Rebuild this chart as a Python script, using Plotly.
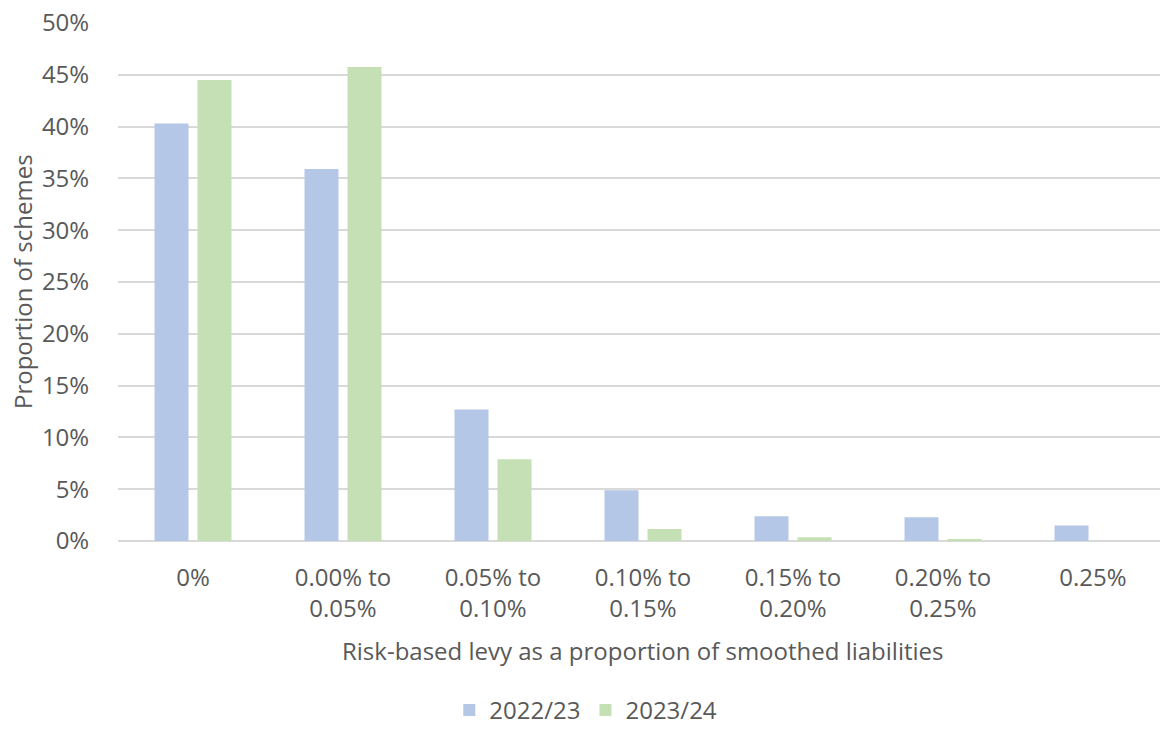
import plotly.graph_objects as go

# Distribution of risk-based levy as a share of smoothed liabilities
categories = [
    "0%",
    "0.00% to<br>0.05%",
    "0.05% to<br>0.10%",
    "0.10% to<br>0.15%",
    "0.15% to<br>0.20%",
    "0.20% to<br>0.25%",
    "0.25%",
]
share_2022_23 = [0.403, 0.359, 0.127, 0.049, 0.024, 0.023, 0.015]
share_2023_24 = [0.445, 0.4575, 0.079, 0.0115, 0.0035, 0.002, 0.0]
series_names = ["2022/23", "2023/24"]
y_ticks = [0, 0.05, 0.10, 0.15, 0.20, 0.25, 0.30, 0.35, 0.40, 0.45, 0.50]

TEXT = "#595959"
FONT = "Open Sans"
FS = 24
W, H = 1160, 733
ML, MT, MB = 118, 23, 192
slot_px = 150  # width of one category slot
plot_w = W - ML
plot_h = H - MT - MB

bar_w = 34 / slot_px
fig = go.Figure()
fig.add_trace(go.Bar(
    x=categories, y=share_2022_23, name=series_names[0],
    marker=dict(color="#b4c7e7", line=dict(width=0)),
    width=bar_w, offset=-(21.5 + 17) / slot_px,
))
fig.add_trace(go.Bar(
    x=categories, y=share_2023_24, name=series_names[1],
    marker=dict(color="#c5e0b4", line=dict(width=0)),
    width=bar_w, offset=(21.5 - 17) / slot_px,
))

fig.update_layout(
    width=W, height=H,
    margin=dict(l=ML, r=0, t=MT, b=MB, pad=0),
    paper_bgcolor="white", plot_bgcolor="white",
    font=dict(family=FONT, size=FS, color=TEXT),
    barmode="overlay",
    showlegend=True,
    legend=dict(
        orientation="h", xref="container", yref="container",
        x=0.505, xanchor="center", y=0.0, yanchor="bottom",
        font=dict(size=FS, color=TEXT), itemwidth=30,
        traceorder="normal",
    ),
    xaxis=dict(
        type="category",
        range=[-0.5, -0.5 + plot_w / slot_px],
        showgrid=False, showline=False, zeroline=False,
        ticks="outside", ticklen=15, tickcolor="rgba(0,0,0,0)",
        tickfont=dict(size=FS, color=TEXT),
        tickangle=0,
    ),
    yaxis=dict(
        range=[0, 0.5], tickvals=y_ticks, tickformat=".0%",
        showgrid=True, gridcolor="#d9d9d9", gridwidth=2,
        zeroline=True, zerolinecolor="#d9d9d9", zerolinewidth=2,
        showline=False,
        ticks="outside", ticklen=23, tickcolor="rgba(0,0,0,0)",
        tickfont=dict(size=FS, color=TEXT),
    ),
    annotations=[
        dict(text="Proportion of schemes", xref="paper", yref="paper",
             x=-(ML - 22) / plot_w, y=0.5, textangle=-90,
             xanchor="center", yanchor="middle", showarrow=False,
             font=dict(size=FS, color=TEXT)),
        dict(text="Risk-based levy as a proportion of smoothed liabilities",
             xref="paper", yref="paper",
             x=(643 - ML) / plot_w, y=-(650 - (H - MB)) / plot_h,
             xanchor="center", yanchor="middle", showarrow=False,
             font=dict(size=FS, color=TEXT)),
    ],
)

fig.write_html("out.html")
